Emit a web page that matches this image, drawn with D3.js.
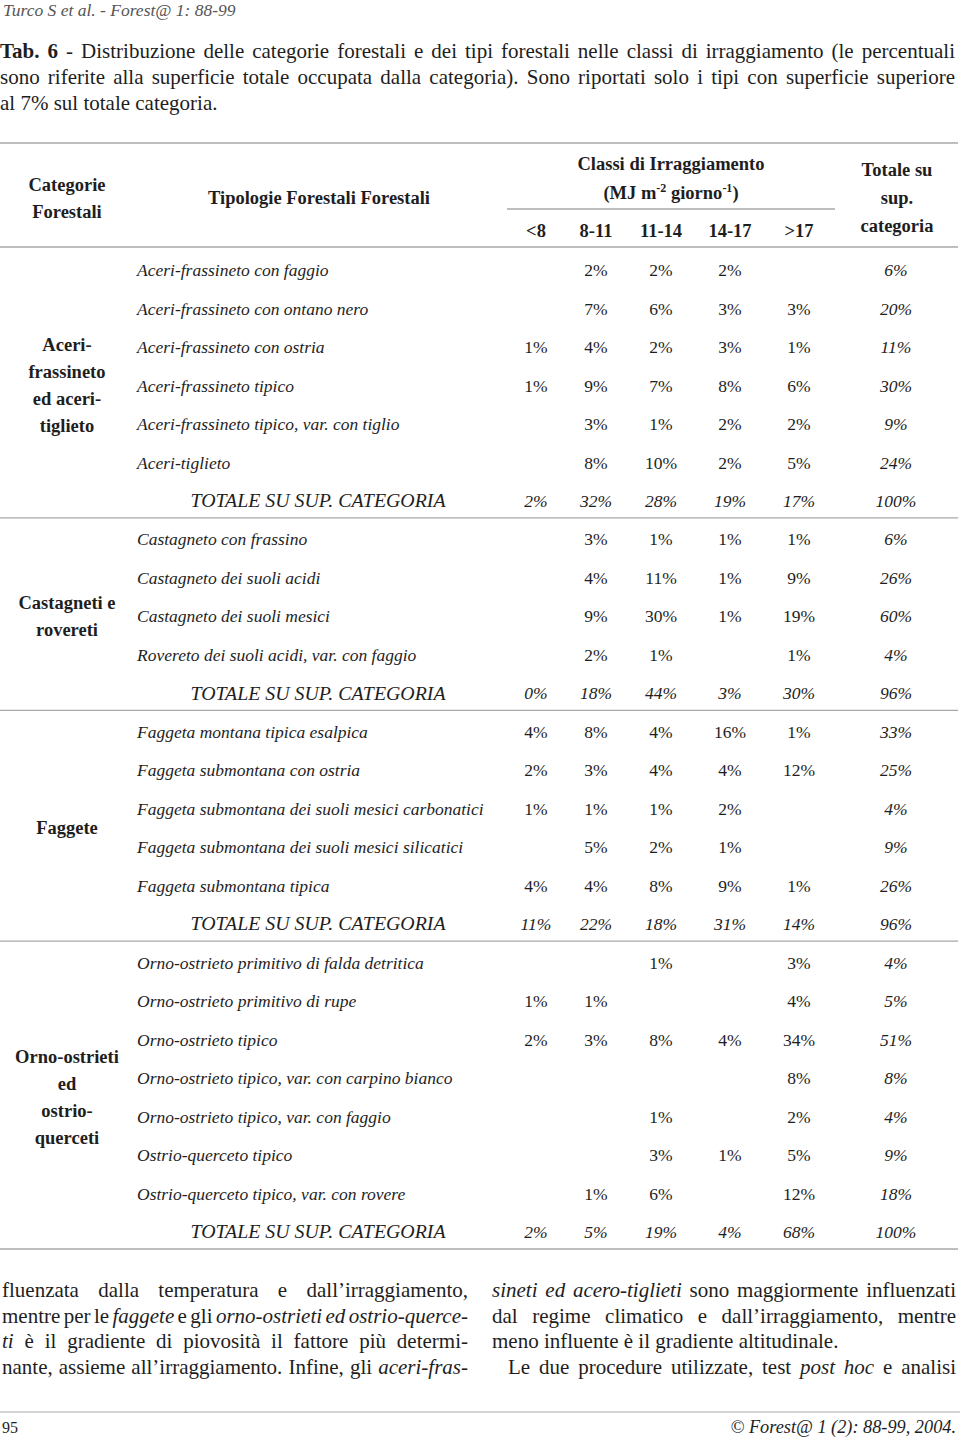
<!DOCTYPE html>
<html>
<head>
<meta charset="utf-8">
<script src="https://cdn.jsdelivr.net/npm/d3@7"></script>
<style>
  body { margin: 0; background: #fff; }
  svg text { fill: #1e1e1e; }
</style>
</head>
<body>
<div id="tab"></div>
<script>

// categorie forestali (label split on lines as in the original)
var categoryLines = [
  ["Aceri-", "frassineto", "ed aceri-", "tiglieto"],
  ["Castagneti e", "rovereti"],
  ["Faggete"],
  ["Orno-ostrieti", "ed", "ostrio-", "querceti"]
];

// irradiance classes + total column
var classLabels = ["<8", "8-11", "11-14", "14-17", ">17"];

// forest types, per category
var aceriTypes = ["Aceri-frassineto con faggio", "Aceri-frassineto con ontano nero", "Aceri-frassineto con ostria",
  "Aceri-frassineto tipico", "Aceri-frassineto tipico, var. con tiglio", "Aceri-tiglieto"];
var aceriValues = [[null, 2, 2, 2, null], [null, 7, 6, 3, 3], [1, 4, 2, 3, 1], [1, 9, 7, 8, 6], [null, 3, 1, 2, 2], [null, 8, 10, 2, 5]];
var aceriTotals = [6, 20, 11, 30, 9, 24];
var aceriSum = [2, 32, 28, 19, 17, 100];

var castTypes = ["Castagneto con frassino", "Castagneto dei suoli acidi", "Castagneto dei suoli mesici",
  "Rovereto dei suoli acidi, var. con faggio"];
var castValues = [[null, 3, 1, 1, 1], [null, 4, 11, 1, 9], [null, 9, 30, 1, 19], [null, 2, 1, null, 1]];
var castTotals = [6, 26, 60, 4];
var castSum = [0, 18, 44, 3, 30, 96];

var faggTypes = ["Faggeta montana tipica esalpica", "Faggeta submontana con ostria",
  "Faggeta submontana dei suoli mesici carbonatici", "Faggeta submontana dei suoli mesici silicatici",
  "Faggeta submontana tipica"];
var faggValues = [[4, 8, 4, 16, 1], [2, 3, 4, 4, 12], [1, 1, 1, 2, null], [null, 5, 2, 1, null], [4, 4, 8, 9, 1]];
var faggTotals = [33, 25, 4, 9, 26];
var faggSum = [11, 22, 18, 31, 14, 96];

var ornoTypes = ["Orno-ostrieto primitivo di falda detritica", "Orno-ostrieto primitivo di rupe", "Orno-ostrieto tipico",
  "Orno-ostrieto tipico, var. con carpino bianco", "Orno-ostrieto tipico, var. con faggio", "Ostrio-querceto tipico",
  "Ostrio-querceto tipico, var. con rovere"];
var ornoValues = [[null, null, 1, null, 3], [1, 1, null, null, 4], [2, 3, 8, 4, 34], [null, null, null, null, 8],
  [null, null, 1, null, 2], [null, null, 3, 1, 5], [null, 1, 6, null, 12]];
var ornoTotals = [4, 5, 51, 8, 4, 9, 18];
var ornoSum = [2, 5, 19, 4, 68, 100];

var captionLines = [
  [["Tab. 6", "b"], [" - Distribuzione delle categorie forestali e dei tipi forestali nelle classi di irraggiamento (le percentuali", ""]],
  [["sono riferite alla superficie totale occupata dalla categoria). Sono riportati solo i tipi con superficie superiore", ""]],
  [["al 7% sul totale categoria.", ""]]
];

var leftText = [
  [["fluenzata dalla temperatura e dall\u2019irraggiamento,", ""]],
  [["mentre per le ", ""], ["faggete", "i"], [" e gli ", ""], ["orno-ostrieti ed ostrio-querce-", "i"]],
  [["ti", "i"], [" \u00e8 il gradiente di piovosit\u00e0 il fattore pi\u00f9 determi-", ""]],
  [["nante, assieme all\u2019irraggiamento. Infine, gli ", ""], ["aceri-fras-", "i"]]
];
var rightText = [
  [["sineti ed acero-tiglieti", "i"], [" sono maggiormente influenzati", ""]],
  [["dal regime climatico e dall\u2019irraggiamento, mentre", ""]],
  [["meno influente \u00e8 il gradiente altitudinale.", ""]],
  [["Le due procedure utilizzate, test ", ""], ["post hoc", "i"], [" e analisi", ""]]
];

var groups = [
  {lines: categoryLines[0], types: aceriTypes, values: aceriValues, totals: aceriTotals, sum: aceriSum},
  {lines: categoryLines[1], types: castTypes, values: castValues, totals: castTotals, sum: castSum},
  {lines: categoryLines[2], types: faggTypes, values: faggValues, totals: faggTotals, sum: faggSum},
  {lines: categoryLines[3], types: ornoTypes, values: ornoValues, totals: ornoTotals, sum: ornoSum}
];

var W = 960, H = 1440;
var serif = "'Liberation Serif', 'Times New Roman', serif";

var svg = d3.select("#tab").append("svg")
  .attr("width", W).attr("height", H)
  .style("font-family", serif);

// flatten rows
var rows = [];
groups.forEach(function (g, gi) {
  g.types.forEach(function (t, i) {
    rows.push({group: gi, name: t, vals: g.values[i].concat([g.totals[i]]), total: false});
  });
  rows.push({group: gi, name: "TOTALE SU SUP. CATEGORIA", vals: g.sum, total: true});
});

var y = d3.scalePoint().domain(d3.range(rows.length)).range([270, 1232]);
var x = d3.scaleOrdinal().domain(d3.range(6)).range([536, 596, 661, 730, 799, 896]);

// running header
svg.append("text").attr("x", 3).attr("y", 16)
  .style("font-style", "italic").style("font-size", "17.5px").style("fill", "#555")
  .text("Turco S et al.  - Forest@ 1: 88-99");

function writeLine(sel, parts, x0, yy, size, width) {
  var t = sel.append("text").attr("x", x0).attr("y", yy).style("font-size", size + "px")
    .attr("xml:space", "preserve");
  parts.forEach(function (p) {
    t.append("tspan").text(p[0])
      .style("font-weight", p[1] == "b" ? "bold" : null)
      .style("font-style", p[1] == "i" ? "italic" : null);
  });
  if (width) {
    var full = parts.map(function (p) { return p[0]; }).join("");
    var spaces = (full.match(/ /g) || []).length;
    var w = t.node().getComputedTextLength();
    if (spaces > 0) t.style("word-spacing", ((width - w) / spaces) + "px");
  }
  return t;
}

// caption
captionLines.forEach(function (l, i) {
  writeLine(svg, l, 0, 58 + i * 26, 21, i < 2 ? 955 : null);
});

// rules
var rule = function (x1, x2, yy, sw) {
  svg.append("line").attr("x1", x1).attr("x2", x2).attr("y1", yy).attr("y2", yy)
    .style("stroke", "#a8a8a8").style("stroke-width", sw || 1.3);
};
rule(0, 958, 143);
rule(0, 958, 247);
rule(507, 835, 209);

// header
var head = svg.append("g").style("font-weight", "bold").style("font-size", "18.5px");
head.append("text").attr("x", 67).attr("y", 191).attr("text-anchor", "middle").text("Categorie");
head.append("text").attr("x", 67).attr("y", 218).attr("text-anchor", "middle").text("Forestali");
head.append("text").attr("x", 319).attr("y", 204).attr("text-anchor", "middle").text("Tipologie Forestali Forestali");
head.append("text").attr("x", 671).attr("y", 170).attr("text-anchor", "middle").text("Classi di Irraggiamento");
var mj = head.append("text").attr("x", 671).attr("y", 199).attr("text-anchor", "middle");
mj.append("tspan").text("(MJ m");
mj.append("tspan").attr("dy", -7).style("font-size", "12px").text("-2");
mj.append("tspan").attr("dy", 7).text(" giorno");
mj.append("tspan").attr("dy", -7).style("font-size", "12px").text("-1");
mj.append("tspan").attr("dy", 7).text(")");
["Totale su", "sup.", "categoria"].forEach(function (s, i) {
  head.append("text").attr("x", 897).attr("y", 176 + i * 28).attr("text-anchor", "middle").text(s);
});
head.selectAll("text.cls").data(classLabels).enter().append("text")
  .attr("class", "cls")
  .attr("x", function (d, i) { return x(i); })
  .attr("y", 237).attr("text-anchor", "middle").text(function (d) { return d; });

// body rows
var rowG = svg.selectAll("g.row").data(rows).enter().append("g").attr("class", "row")
  .attr("transform", function (d, i) { return "translate(0," + y(i) + ")"; })
  .style("font-size", "17.5px");

rowG.append("text")
  .attr("x", function (d) { return d.total ? 318 : 137; })
  .attr("text-anchor", function (d) { return d.total ? "middle" : "start"; })
  .attr("dy", "0.35em").style("font-style", "italic")
  .style("font-size", function (d) { return d.total ? "18px" : null; })
  .attr("textLength", function (d) { return d.total ? 255 : null; })
  .attr("lengthAdjust", function (d) { return d.total ? "spacingAndGlyphs" : null; })
  .text(function (d) { return d.name; });

rowG.selectAll("text.v")
  .data(function (d) { return d.vals.map(function (v, j) { return {v: v, j: j, total: d.total}; }); })
  .enter().filter(function (d) { return d.v != null; })
  .append("text").attr("class", "v")
  .attr("x", function (d) { return x(d.j); })
  .attr("dy", "0.35em").attr("text-anchor", "middle")
  .style("font-style", function (d) { return (d.total || d.j == 5) ? "italic" : null; })
  .text(function (d) { return d.v + "%"; });

// category labels + separating rules
var start = 0;
groups.forEach(function (g) {
  var n = g.types.length + 1;
  var mid = (y(start) + y(start + n - 1)) / 2;
  g.lines.forEach(function (s, i) {
    svg.append("text").attr("x", 67).attr("text-anchor", "middle")
      .attr("y", mid + (i - (g.lines.length - 1) / 2) * 27).attr("dy", "0.35em")
      .style("font-weight", "bold").style("font-size", "18.5px").text(s);
  });
  rule(0, 958, y(start + n - 1) + 17);
  start += n;
});

// running text below the table
leftText.forEach(function (l, i) {
  writeLine(svg, l, 2, 1297 + i * 25.5, 21, 466);
});
rightText.forEach(function (l, i) {
  var x0 = i == 3 ? 508 : 492;
  writeLine(svg, l, x0, 1297 + i * 25.5, 21, i == 2 ? null : 956 - x0);
});

// footer
rule(0, 960, 1412, 1);
svg.append("text").attr("x", 2).attr("y", 1433).style("font-size", "16px").text("95");
svg.append("text").attr("x", 956).attr("y", 1433).attr("text-anchor", "end")
  .style("font-size", "18.3px").style("font-style", "italic")
  .text("\u00a9 Forest@ 1 (2): 88-99, 2004.");

</script>
</body>
</html>
